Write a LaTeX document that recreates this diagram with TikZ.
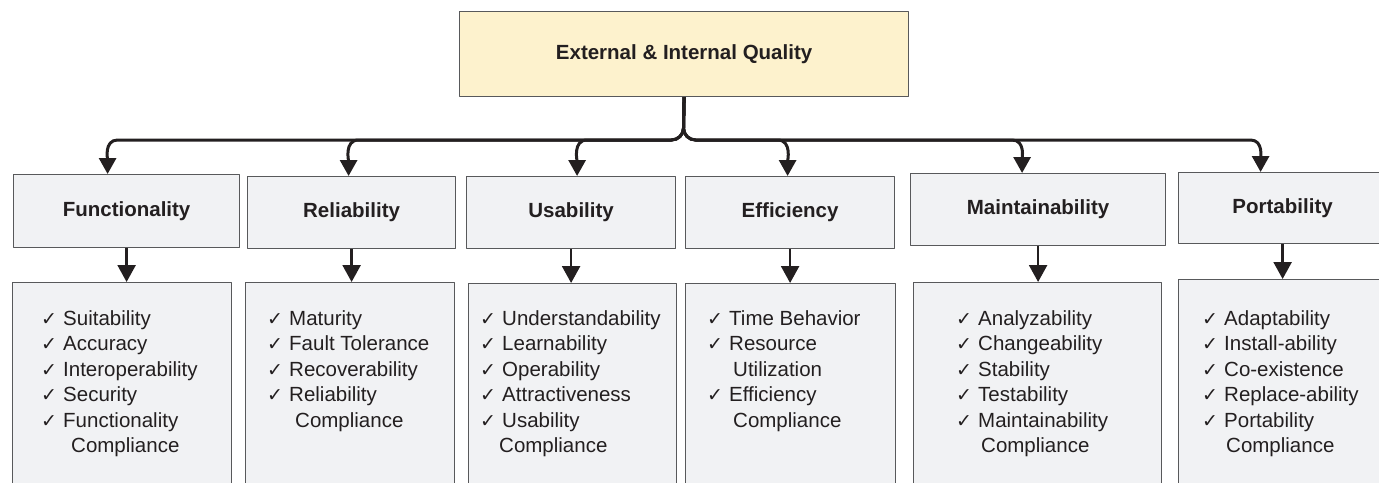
\documentclass[tikz,border=0pt]{standalone}
\usepackage{fontspec}
\setmainfont{Liberation Sans}
\newfontfamily\ckfont{DejaVu Sans}
\usetikzlibrary{positioning}
\usetikzlibrary{arrows.meta}
\usetikzlibrary{calc}
\definecolor{qualfill}{HTML}{FDF2CD}
\definecolor{boxfill}{HTML}{F1F2F4}
\definecolor{boxline}{HTML}{58595B}
\definecolor{ink}{HTML}{231F20}
\newcommand{\ck}{\makebox[22pt][l]{\ckfont\fontsize{19}{19}\selectfont\char"2713}}
\newcommand{\itemfont}{\fontsize{20.5}{25.5}\selectfont}

\begin{document}
\begin{tikzpicture}[x=1pt,y=-1pt,line join=round,
	every node/.append style={text=ink},
	head/.style={draw=boxline,line width=1.2pt,fill=boxfill,anchor=north west,
		inner sep=0pt,font=\fontsize{20.5}{24}\selectfont\bfseries},
	listbox/.style={draw=boxline,line width=1.2pt,fill=boxfill,anchor=north west,
		inner sep=0pt,minimum height=240pt},
	items/.style={anchor=base west,inner sep=0pt,font=\itemfont},
	bus/.style={draw=ink,line width=3pt,-{Triangle[width=17pt,length=16pt]}},
	drop/.style={draw=ink,line width=2.5pt,-{Triangle[width=18pt,length=17pt]}}]

	\useasboundingbox (0,0) rectangle (1379,482);
	\clip (0,0) rectangle (1379,482);

	%top box
	\node[head,fill=qualfill,minimum width=449pt,minimum height=85pt] (qual) at (459,11)
		{External \& Internal Quality};
	\coordinate (hub) at (683.5,140);

	%characteristics
	\node[head,minimum width=226pt,minimum height=73pt] (func) at (13,174) {Functionality};
	\node[head,minimum width=208pt,minimum height=72pt] (reli) at (247,176) {Reliability};
	\node[head,minimum width=209pt,minimum height=72pt] (usab) at (466,176) {Usability};
	\node[head,minimum width=209pt,minimum height=72pt] (effi) at (685,176) {Efficiency};
	\node[head,minimum width=255pt,minimum height=72pt] (main) at (910,173) {Maintainability};
	\node[head,minimum width=208pt,minimum height=71pt] (port) at (1178,172) {Portability};

	%sub-characteristic boxes (open at the bottom edge)
	\node[listbox,minimum width=219pt] (func-l) at (12,282) {};
	\node[listbox,minimum width=209pt] (reli-l) at (245,282) {};
	\node[listbox,minimum width=208pt] (usab-l) at (468,283) {};
	\node[listbox,minimum width=210pt] (effi-l) at (685,283) {};
	\node[listbox,minimum width=248pt] (main-l) at (913,282) {};
	\node[listbox,minimum width=212pt] (port-l) at (1178,279) {};

	%lists
	\node[items] (func-t) at (41,325) {\begin{tabular}[t]{@{}l@{}}
		\ck Suitability\\ \ck Accuracy\\ \ck Interoperability\\ \ck Security\\
		\ck Functionality\\ \hspace*{30pt}Compliance\end{tabular}};
	\node[items] (reli-t) at (267,325) {\begin{tabular}[t]{@{}l@{}}
		\ck Maturity\\ \ck Fault Tolerance\\ \ck Recoverability\\ \ck Reliability\\
		\hspace*{28pt}Compliance\end{tabular}};
	\node[items] (usab-t) at (480,325) {\begin{tabular}[t]{@{}l@{}}
		\ck Understandability\\ \ck Learnability\\ \ck Operability\\ \ck Attractiveness\\
		\ck Usability\\ \hspace*{19pt}Compliance\end{tabular}};
	\node[items] (effi-t) at (707,325) {\begin{tabular}[t]{@{}l@{}}
		\ck Time Behavior\\ \ck Resource\\ \hspace*{26pt}Utilization\\
		\ck Efficiency\\ \hspace*{26pt}Compliance\end{tabular}};
	\node[items] (main-t) at (956,325) {\begin{tabular}[t]{@{}l@{}}
		\ck Analyzability\\ \ck Changeability\\ \ck Stability\\ \ck Testability\\
		\ck Maintainability\\ \hspace*{25pt}Compliance\end{tabular}};
	\node[items] (port-t) at (1202,325) {\begin{tabular}[t]{@{}l@{}}
		\ck Adaptability\\ \ck Install-ability\\ \ck Co-existence\\ \ck Replace-ability\\
		\ck Portability\\ \hspace*{24pt}Compliance\end{tabular}};

	%bus to the left
	\foreach \n/\dx in {func/-19,reli/-3,usab/6}
	\draw[bus] (qual.south) -- ($(hub)+(0,-12)$) to[out=-90,in=0] ($(hub)+(-12,0)$)
		-- ($(\n.north |- hub)+({\dx+10},0)$) to[out=180,in=90] ($(\n.north)+(\dx,0)$);
	%bus to the right
	\foreach \n/\dx in {effi/-2.5,main/-16,port/-22}
	\draw[bus] (qual.south) -- ($(hub)+(0,-12)$) to[out=-90,in=180] ($(hub)+(12,0)$)
		-- ($(\n.north |- hub)+({\dx-10},0)$) to[out=0,in=90] ($(\n.north)+(\dx,0)$);

	%down to the lists
	\foreach \n in {func,reli,usab,effi,main,port}
	\draw[drop] (\n.south) -- (\n.south |- \n-l.north);

\end{tikzpicture}
\end{document}
